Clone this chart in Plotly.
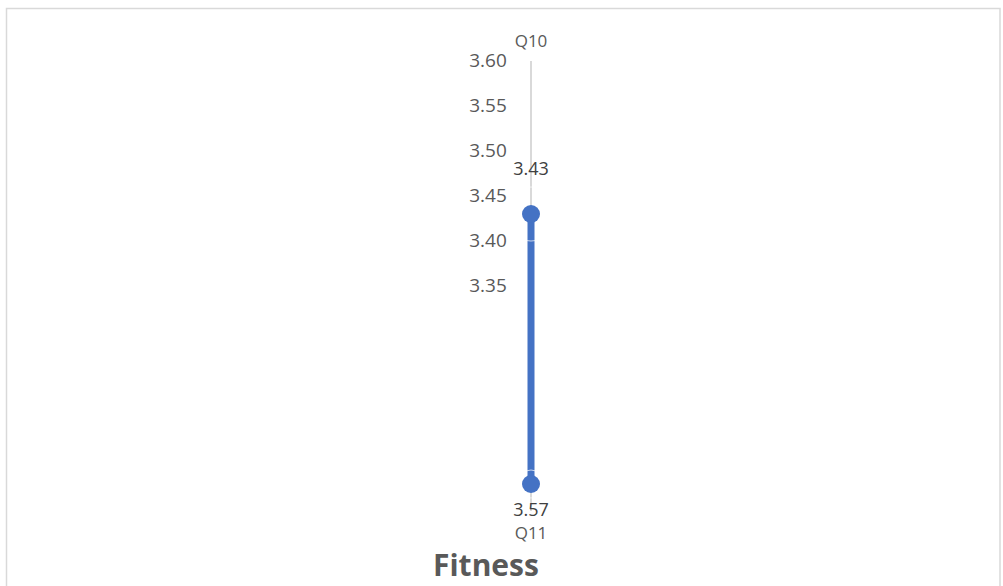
import plotly.graph_objects as go

categories = ["Q10", "Q11"]
values = [3.43, 3.57]
value_labels = ["3.43", "3.57"]
radial_ticks = [3.35, 3.40, 3.45, 3.50, 3.55, 3.60]
radial_ticktext = ["3.35", "3.40", "3.45", "3.50", "3.55", "3.60"]
title_text = "Fitness"

W, H = 1003, 586
cx, cy, R = 531, 286, 225
FONT = "Open Sans, Liberation Sans, sans-serif"

fig = go.Figure()

fig.add_trace(go.Scatterpolar(
    r=values, theta=categories, mode="lines+markers",
    line=dict(color="#4472C4", width=7),
    marker=dict(color="#4472C4", size=18),
    hoverinfo="skip", showlegend=False, cliponaxis=False,
))
# data labels (transparent markers set the offset of the text)
fig.add_trace(go.Scatterpolar(
    r=values, theta=categories, mode="text+markers",
    text=value_labels, textposition=["top center", "bottom center"],
    textfont=dict(family=FONT, size=18, color="#404040"),
    marker=dict(size=[54, 28], color="rgba(0,0,0,0)"),
    hoverinfo="skip", showlegend=False, cliponaxis=False,
))

fig.update_layout(
    width=W, height=H,
    margin=dict(l=0, r=0, t=0, b=0),
    paper_bgcolor="white",
    polar=dict(
        domain=dict(x=[(cx - R) / W, (cx + R) / W], y=[(H - cy - R) / H, (H - cy + R) / H]),
        bgcolor="rgba(0,0,0,0)",
        gridshape="circular",
        radialaxis=dict(
            range=[3.35, 3.60], tickvals=radial_ticks, ticktext=radial_ticktext,
            angle=90, tickangle=90, side="counterclockwise",
            showline=False, showgrid=False,
            ticks="outside", ticklen=17, tickcolor="rgba(0,0,0,0)",
            tickfont=dict(family=FONT, size=19, color="#595959"),
        ),
        angularaxis=dict(
            rotation=90, direction="clockwise",
            showline=False, showgrid=True, gridcolor="#d9d9d9", gridwidth=2,
            ticks="outside", ticklen=7, tickcolor="rgba(0,0,0,0)",
            tickfont=dict(family=FONT, size=17, color="#595959"),
        ),
    ),
    shapes=[dict(type="rect", xref="paper", yref="paper",
                 x0=6.5 / W, x1=(W - 3) / W, y0=-0.01, y1=(H - 8.5) / H,
                 line=dict(color="#d9d9d9", width=1.5))],
    annotations=[dict(text="<b>" + title_text + "</b>", x=486 / W, y=0.0,
                      xref="paper", yref="paper", showarrow=False,
                      xanchor="center", yanchor="bottom", borderpad=0,
                      font=dict(family=FONT, size=30, color="#595959"))],
)

fig.write_html("out.html")
